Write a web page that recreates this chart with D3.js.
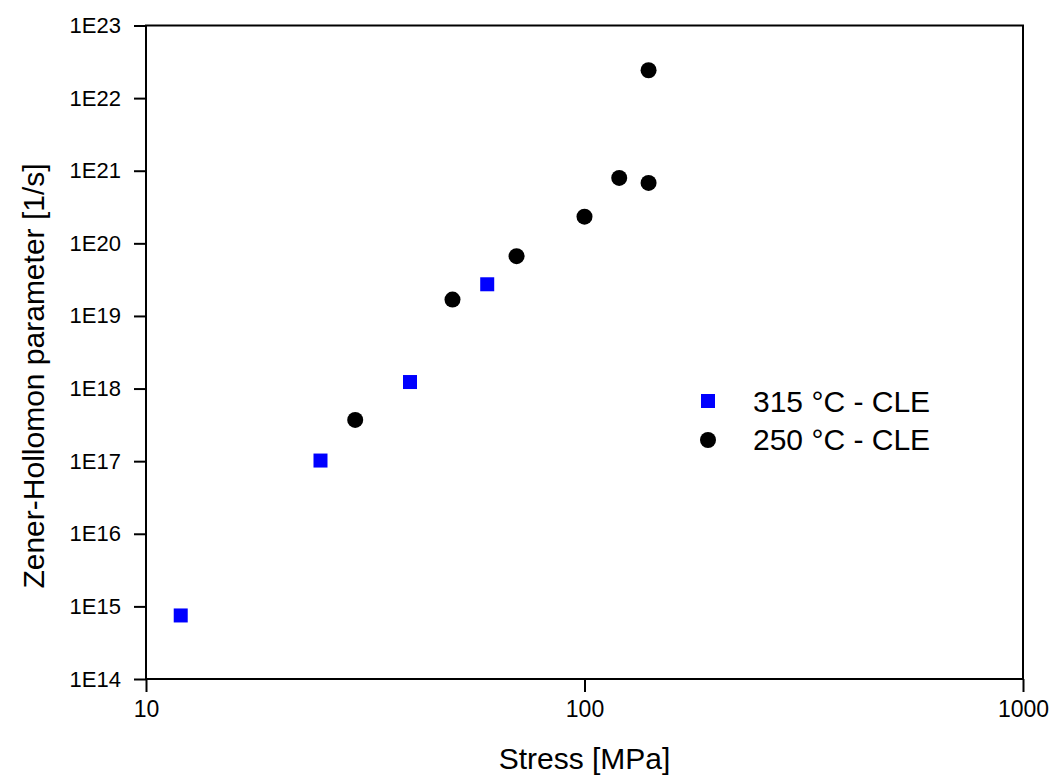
<!DOCTYPE html>
<meta charset="utf-8">
<title>Zener-Hollomon parameter vs stress</title>
<script src="https://d3js.org/d3.v7.min.js"></script>
<style>
  body { margin: 0; background: #fff; }
  text { font-family: Arial, "Liberation Sans", sans-serif; fill: #000; }
</style>
<div id="my_dataviz"></div>
<script>

// data
var stress315 = [12, 25, 40, 60];
var zener315  = [7.5e14, 1.02e17, 1.23e18, 2.73e19];

var stress250 = [30, 50, 70, 100, 120, 140, 140];
var zener250  = [3.7e17, 1.68e19, 6.65e19, 2.33e20, 7.95e20, 6.8e20, 2.42e22];

var xTicks = [10, 100, 1000];
var yTicks = [1e14, 1e15, 1e16, 1e17, 1e18, 1e19, 1e20, 1e21, 1e22, 1e23];

var legendLabels = ["315 \u00B0C - CLE", "250 \u00B0C - CLE"];

// dimensions
var margin = {top: 25.5, right: 33, bottom: 99, left: 146},
    width = 1056 - margin.left - margin.right,
    height = 778 - margin.top - margin.bottom;

var svg = d3.select("#my_dataviz")
  .append("svg")
    .attr("width", 1056)
    .attr("height", 778)
  .append("g")
    .attr("transform", "translate(" + margin.left + "," + margin.top + ")");

var x = d3.scaleLog().domain([10, 1000]).range([0, width]);
var y = d3.scaleLog().domain([1e14, 1e23]).range([height, 0]);

// X axis
var xAxis = svg.append("g")
  .attr("transform", "translate(0," + height + ")")
  .call(d3.axisBottom(x).tickValues(xTicks).tickFormat(d3.format("d"))
    .tickSize(13).tickSizeOuter(0).tickPadding(9));

// Y axis
var yAxis = svg.append("g")
  .call(d3.axisLeft(y).tickValues(yTicks)
    .tickFormat(function(d) { return "1E" + Math.round(Math.log10(d)); })
    .tickSize(12).tickSizeOuter(0).tickPadding(13));

[xAxis, yAxis].forEach(function(a) {
  a.select(".domain").remove();
  a.selectAll("line").attr("stroke", "#000").attr("stroke-width", 2);
  a.selectAll("text")
    .style("font-family", "Arial, 'Liberation Sans', sans-serif").attr("fill", "#000");
});
xAxis.selectAll("text").attr("font-size", "23px");
yAxis.selectAll("text").attr("font-size", "22px");

// frame
svg.append("rect")
  .attr("x", 0).attr("y", 0)
  .attr("width", width).attr("height", height)
  .attr("fill", "none")
  .attr("stroke", "#000")
  .attr("stroke-width", 2);

// axis labels
svg.append("text")
  .attr("x", width / 2)
  .attr("y", height + 90)
  .attr("text-anchor", "middle")
  .attr("font-size", "30px")
  .text("Stress [MPa]");

svg.append("text")
  .attr("transform", "rotate(-90)")
  .attr("x", -(376 - margin.top))
  .attr("y", -102)
  .attr("text-anchor", "middle")
  .attr("font-size", "30px")
  .text("Zener-Hollomon parameter [1/s]");

// points
var sq = 14;
svg.selectAll(".sq")
  .data(stress315)
  .enter()
  .append("rect")
    .attr("class", "sq")
    .attr("x", function(d) { return x(d) - sq / 2; })
    .attr("y", function(d, i) { return y(zener315[i]) - sq / 2; })
    .attr("width", sq)
    .attr("height", sq)
    .attr("fill", "#0000ff");

svg.selectAll(".dot")
  .data(stress250)
  .enter()
  .append("circle")
    .attr("class", "dot")
    .attr("cx", function(d) { return x(d); })
    .attr("cy", function(d, i) { return y(zener250[i]); })
    .attr("r", 8)
    .attr("fill", "#000");

// legend
var legend = svg.append("g")
  .attr("transform", "translate(" + (708 - margin.left) + "," + (401 - margin.top) + ")");

legend.append("rect")
  .attr("x", -7).attr("y", -7)
  .attr("width", 14).attr("height", 14)
  .attr("fill", "#0000ff");
legend.append("circle")
  .attr("cx", 0).attr("cy", 39)
  .attr("r", 8)
  .attr("fill", "#000");

legend.selectAll(".lab")
  .data(legendLabels)
  .enter()
  .append("text")
    .attr("class", "lab")
    .attr("x", 45)
    .attr("y", function(d, i) { return i * 38.5; })
    .attr("dy", "0.35em")
    .attr("font-size", "30px")
    .text(function(d) { return d; });

</script>
